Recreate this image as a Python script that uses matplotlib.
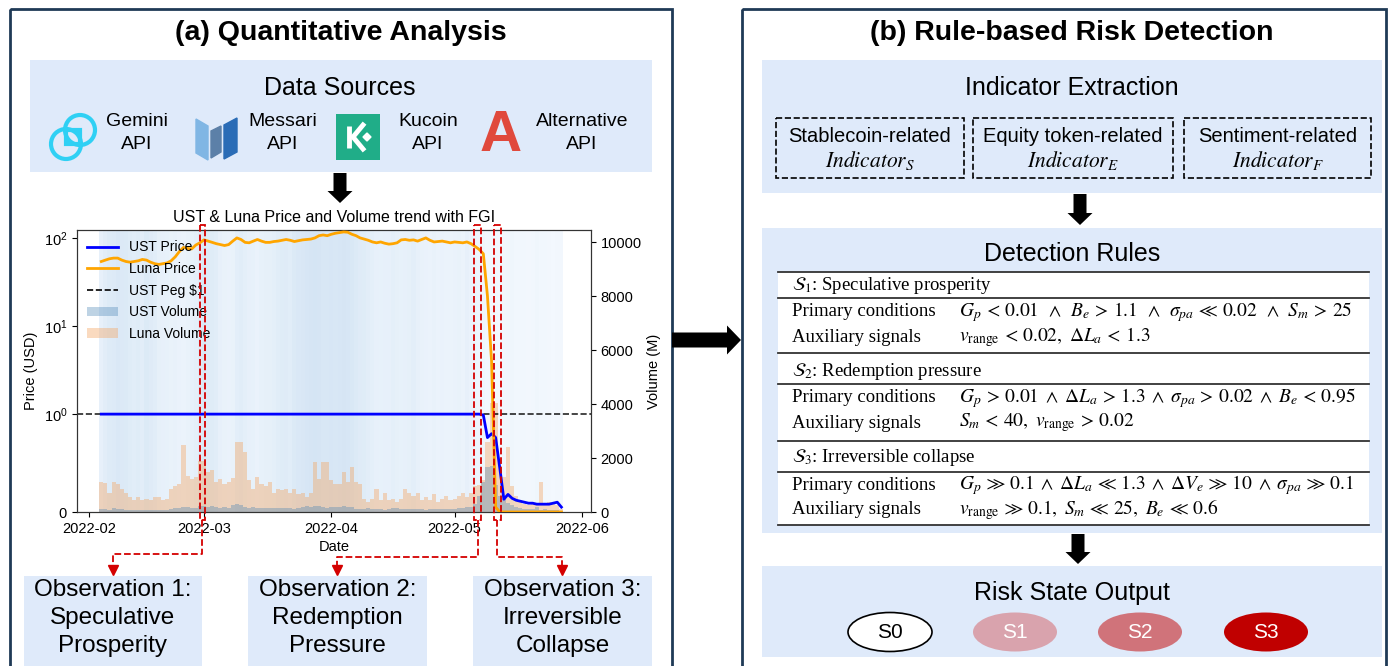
import matplotlib
matplotlib.use("Agg")
import matplotlib.pyplot as plt
import matplotlib.dates as mdates
from matplotlib.patches import Rectangle, Ellipse, FancyArrow, Polygon, Circle, Patch
from matplotlib.lines import Line2D
from matplotlib.ticker import NullLocator
import pandas as pd

plt.rcParams['font.family'] = ['Liberation Sans', 'DejaVu Sans']
plt.rcParams['mathtext.fontset'] = 'stix'

# ---- chart data (daily, 2022-02-04 .. 2022-05-27) ----
start_day = '2022-02-04'
luna_price = [
    54, 56, 58, 59, 59, 56, 54, 53, 54, 55, 57, 56, 53, 51, 50, 51, 52, 55, 61, 70, 78, 76, 75, 83, 88,
    95, 92, 89, 86, 84, 82, 84, 92, 100, 96, 89, 88, 92, 96, 92, 89, 89, 91, 92, 94, 96, 94, 91, 93, 95,
    96, 97, 100, 106, 108, 106,
    110, 113, 115, 117, 116, 110, 106, 100, 97, 94, 90, 88, 90, 87, 85, 86, 88, 95, 96, 94, 95, 92, 96,
    100, 94, 90, 91, 92, 90, 88,
    90, 89, 88, 90, 86, 80, 74, 66, 22, 4, 0.05, 0.0005, 0.0002, 0.0002, 0.0002, 0.0002, 0.0002,
    0.0002, 0.0002, 0.0002, 0.0002, 0.0002, 0.0002, 0.0002, 0.0002, 0.0002, 0.0001,
]
ust_price = [
    1.0, 1.0, 1.0, 1.0, 1.0, 1.0, 1.0, 1.0, 1.0, 1.0, 1.0, 1.0, 1.0, 1.0, 1.0, 1.0, 1.0, 1.0, 1.0, 1.0,
    1.0, 1.0, 1.0, 1.0, 1.0,
    1.0, 1.0, 1.0, 1.0, 1.0, 1.0, 1.0, 1.0, 1.0, 1.0, 1.0, 1.0, 1.0, 1.0, 1.0, 1.0, 1.0, 1.0, 1.0, 1.0,
    1.0, 1.0, 1.0, 1.0, 1.0, 1.0, 1.0, 1.0, 1.0, 1.0, 1.0,
    1.0, 1.0, 1.0, 1.0, 1.0, 1.0, 1.0, 1.0, 1.0, 1.0, 1.0, 1.0, 1.0, 1.0, 1.0, 1.0, 1.0, 1.0, 1.0, 1.0,
    1.0, 1.0, 1.0, 1.0, 1.0, 1.0, 1.0, 1.0, 1.0, 1.0,
    1.0, 1.0, 1.0, 1.0, 1.0, 1.0, 1.0, 0.99, 0.76, 0.80, 0.76, 0.45, 0.13, 0.18, 0.14, 0.12, 0.11,
    0.10, 0.09, 0.09, 0.08, 0.08, 0.08, 0.08, 0.09, 0.10, 0.05,
]
luna_volume = [
    1120, 1070, 720, 1120, 1030, 850, 720, 550, 430, 550, 430, 490, 430, 550, 550, 430, 490, 870, 980,
    1030, 2480, 1350, 1230, 1290, 1900,
    1900, 1470, 1570, 1110, 1230, 1030, 1120, 1250, 2600, 2580, 2210, 1170, 850, 1290, 1030, 950, 1110,
    720, 850, 800, 870, 720, 850, 650, 720, 550, 720, 1840, 1230, 1840, 1840,
    1170, 1030, 1030, 1470, 1110, 1660, 1110, 1030, 490, 370, 490, 850, 430, 720, 430, 500, 370, 490,
    850, 720, 600, 720, 430, 550, 430, 650, 370, 490, 600, 430,
    490, 600, 720, 550, 720, 950, 1000, 1200, 2600, 4030, 4030, 1720, 1290, 2400, 980, 600, 430, 310,
    250, 310, 250, 1120, 250, 370, 310, 250, 120,
]
ust_volume = [
    120, 110, 90, 130, 120, 100, 90, 80, 70, 80, 70, 80, 70, 90, 80, 70, 80, 120, 140, 160, 200, 170,
    150, 160, 220,
    240, 200, 220, 180, 160, 170, 160, 260, 280, 250, 180, 150, 170, 160, 150, 160, 140, 150, 140, 130,
    140, 130, 120, 140, 190, 210, 180, 220, 230, 180, 160,
    170, 200, 180, 210, 190, 170, 120, 100, 110, 140, 100, 120, 100, 90, 100, 140, 130, 110, 120, 100,
    110, 100, 120, 90, 100, 110, 100, 110, 120, 110,
    120, 130, 150, 170, 200, 300, 600, 1100, 1650, 1700, 1000, 600, 500, 350, 250, 200, 150, 120, 110,
    100, 200, 90, 100, 90, 80, 70, 50,
]
fgi = [
    30, 38, 45, 47, 52, 50, 48, 43, 40, 42, 38, 48, 44, 40, 32, 30, 28, 26, 27, 24, 22, 26, 28, 33, 44,
    52, 46, 42, 40, 30, 26, 24, 26, 35, 40, 34, 30, 29, 24, 28, 31, 32, 34, 40, 42, 44, 40, 48, 52, 55,
    58, 60, 62, 60, 56, 56,
    58, 56, 58, 60, 58, 54, 48, 44, 42, 38, 34, 30, 28, 30, 30, 34, 32, 28, 30, 32, 36, 30, 26, 24, 22,
    26, 22, 24, 22, 22,
    24, 26, 22, 30, 24, 20, 18, 14, 12, 10, 10, 8, 10, 12, 14, 12, 12, 12, 10, 12, 14, 12, 12, 10, 8,
    10, 10,
]
# observation windows marked on the chart
obs_windows = [('2022-02-28 00:00', '2022-03-01 06:00'),
               ('2022-05-05 20:00', '2022-05-07 08:00'),
               ('2022-05-10 12:00', '2022-05-12 06:00')]
obs_titles = ['Observation 1:\nSpeculative\nProsperity',
              'Observation 2:\nRedemption\nPressure',
              'Observation 3:\nIrreversible\nCollapse']

sources = ['Gemini\nAPI', 'Messari\nAPI', 'Kucoin\nAPI', 'Alternative\nAPI']
indicator_groups = ['Stablecoin-related', 'Equity token-related', 'Sentiment-related']
indicator_subs = [r'$Indicator_S$', r'$Indicator_E$', r'$Indicator_F$']
rule_titles = [r'$\mathcal{S}_1$: Speculative prosperity',
               r'$\mathcal{S}_2$: Redemption pressure',
               r'$\mathcal{S}_3$: Irreversible collapse']
rule_primary = [r'$G_p\, <\, 0.01\ \,\wedge\ \,B_e\, >\, 1.1\ \,\wedge\ \,\sigma_{pa}\, \ll\, 0.02\ \,\wedge\ \,S_m\, >\, 25$',
                r'$G_p\, >\, 0.01\; \wedge\; \Delta L_a\, >\, 1.3\; \wedge\; \sigma_{pa}\, >\, 0.02\; \wedge\; B_e\, <\, 0.95$',
                r'$G_p\, \gg\, 0.1\; \wedge\; \Delta L_a\, \ll\, 1.3\; \wedge\; \Delta V_e\, \gg\, 10\; \wedge\; \sigma_{pa}\, \gg\, 0.1$']
rule_aux = [r'$v_{\mathrm{range}}\, <\, 0.02,\ \Delta L_a\, <\, 1.3$',
            r'$S_m\, <\, 40,\ v_{\mathrm{range}}\, >\, 0.02$',
            r'$v_{\mathrm{range}}\, \gg\, 0.1,\ S_m\, \ll\, 25,\ B_e\, \ll\, 0.6$']
risk_states = ['S0', 'S1', 'S2', 'S3']
risk_colors = ['white', '#d9a3ad', '#d0737a', '#c00000']

for s in (luna_price, ust_price, luna_volume, ust_volume, fgi):
    assert len(s) == len(luna_price), len(s)

W, H = 1388, 666
BOX = '#dfeafa'
NAVY = '#1f3a56'
RED = '#d40000'

fig = plt.figure(figsize=(W / 100, H / 100), dpi=100)
bg = fig.add_axes([0, 0, 1, 1])
bg.set_xlim(0, W)
bg.set_ylim(H, 0)
bg.axis('off')

# panels
bg.add_patch(Rectangle((10, 9), 662, 700, fill=False, ec=NAVY, lw=2))
bg.add_patch(Rectangle((742, 9), 644, 700, fill=False, ec=NAVY, lw=2))
bg.text(341, 33, '(a) Quantitative Analysis', ha='center', va='center', fontsize=20.5, fontweight='bold')
bg.text(1072, 33, '(b) Rule-based Risk Detection', ha='center', va='center', fontsize=20.5, fontweight='bold')

# data sources box + logos
bg.add_patch(Rectangle((30, 60), 622, 112, color=BOX, lw=0))
bg.text(340, 88, 'Data Sources', ha='center', va='center', fontsize=18)
for x, s in zip([137, 283, 428, 582], sources):
    bg.text(x, 133, s, ha='center', va='center', fontsize=14, linespacing=1.45)
bg.add_patch(Circle((66, 144), 15, fill=False, ec='#2fd0f4', lw=3))
bg.add_patch(Circle((80, 130), 15, fill=False, ec='#2fd0f4', lw=3))
bg.add_patch(Rectangle((66, 130), 14, 14, fill=False, ec='#2fd0f4', lw=3))
bg.add_patch(Polygon([(196, 119), (208, 126), (208, 160), (196, 153)], color='#80b6e4'))
bg.add_patch(Polygon([(211, 131), (221, 126), (221, 152), (211, 158)], color='#5c80a8'))
bg.add_patch(Polygon([(224, 125), (237, 118), (237, 152), (224, 159)], color='#2a6cb6'))
bg.add_patch(Rectangle((336, 114), 44, 46, color='#20ad88', lw=0))
bg.plot([349, 349], [126, 148], color='white', lw=3.5, solid_capstyle='butt')
bg.plot([363, 353, 363], [125, 137, 149], color='white', lw=3.5)
bg.add_patch(Polygon([(367, 133), (371, 137), (367, 141), (363, 137)], color='white'))
bg.text(501, 136, 'A', ha='center', va='center', fontsize=42, fontweight='bold', color='#e0493c')

arrow_kw = dict(width=13, head_width=25, head_length=12, length_includes_head=True, color='black', lw=0)
bg.add_patch(FancyArrow(340, 173, 0, 30, **arrow_kw))
bg.add_patch(FancyArrow(672, 340, 69, 0, width=15, head_width=29, head_length=14,
                        length_includes_head=True, color='black', lw=0))
bg.add_patch(FancyArrow(1080, 194, 0, 31, **arrow_kw))
bg.add_patch(FancyArrow(1078, 534, 0, 30, **arrow_kw))

# ---- price / volume chart ----
dates = pd.date_range(start_day, periods=len(luna_price), freq='D')
dn = mdates.date2num(dates)

ax = fig.add_axes([77 / W, 1 - 512 / H, (591 - 77) / W, (512 - 230) / H])
ax2 = ax.twinx()
ax.set_zorder(ax2.get_zorder() + 1)
ax.patch.set_visible(False)

for d, f in zip(dn, fgi):
    ax2.axvspan(d - 0.5, d + 0.5, color=plt.cm.Blues(f / 100 * 0.28), lw=0, zorder=0)
ax2.bar(dn, luna_volume, width=1.0, color='sandybrown', alpha=0.4, lw=0, zorder=1)
ax2.bar(dn, ust_volume, width=1.0, color='steelblue', alpha=0.35, lw=0, zorder=2)
ax2.set_ylim(0, 10450)
ax2.set_ylabel('Volume (M)', fontsize=10.5)
ax2.tick_params(labelsize=10.5)

ax.axhline(1, color='k', ls='--', lw=1.2, alpha=0.85, zorder=2)
ax.plot(dn, ust_price, color='blue', lw=2, zorder=3)
ax.plot(dn, luna_price, color='orange', lw=2, zorder=3)
ax.set_yscale('symlog', linthresh=1)
ax.set_ylim(0, 123)
ax.yaxis.set_minor_locator(NullLocator())
ax.set_xlim(mdates.date2num(pd.Timestamp('2022-01-29 02:00')), mdates.date2num(pd.Timestamp('2022-06-03 05:00')))
ax.xaxis.set_major_locator(mdates.MonthLocator())
ax.xaxis.set_major_formatter(mdates.DateFormatter('%Y-%m'))
ax.tick_params(labelsize=10.5)
ax.set_ylabel('Price (USD)', fontsize=10.5)
ax.set_xlabel('Date', fontsize=10.5, labelpad=3)
ax.set_title('UST & Luna Price and Volume trend with FGI', fontsize=11.5, pad=6)
for a in (ax, ax2):
    for sp in a.spines.values():
        sp.set_color('#333333')

handles = [Line2D([], [], color='blue', lw=2), Line2D([], [], color='orange', lw=2),
           Line2D([], [], color='k', ls='--', lw=1.2),
           Patch(color='steelblue', alpha=0.35, lw=0), Patch(color='sandybrown', alpha=0.4, lw=0)]
labels = ['UST Price', 'Luna Price', 'UST Peg $1', 'UST Volume', 'Luna Volume']
ax.legend(handles, labels, loc='upper left', frameon=False, fontsize=10, handlelength=2.2,
          labelspacing=0.55, borderaxespad=0.35)

# overlay for the red observation markers (above the chart)
top = fig.add_axes([0, 0, 1, 1], zorder=10)
top.set_xlim(0, W)
top.set_ylim(H, 0)
top.axis('off')

obs_box_x = [(24, 202), (248, 427), (473, 652)]
turn_y = [554, 557, 557]
for (t0, t1), (bx0, bx1), ty, title in zip(obs_windows, obs_box_x, turn_y, obs_titles):
    x0 = ax.transData.transform((mdates.date2num(pd.Timestamp(t0)), 1))[0]
    x1 = ax.transData.transform((mdates.date2num(pd.Timestamp(t1)), 1))[0]
    top.add_patch(Rectangle((x0, 225), x1 - x0, 295, fill=False, ec=RED, ls='--', lw=1.3))
    xc = (x0 + x1) / 2
    bc = (bx0 + bx1) / 2
    top.plot([xc, xc, bc, bc], [520, ty, ty, 568], color=RED, ls='--', lw=1.3)
    top.plot([bc], [570], marker='v', color=RED, ms=7)
    bg.add_patch(Rectangle((bx0, 576), bx1 - bx0, 90, color=BOX, lw=0))
    bg.text(bc, 618, title, ha='center', va='center', fontsize=17.5, linespacing=1.33)

# ---- right panel ----
bg.add_patch(Rectangle((762, 60), 620, 133, color=BOX, lw=0))
bg.text(1072, 88, 'Indicator Extraction', ha='center', va='center', fontsize=18)
for (x0, x1), grp, sub in zip([(776, 964), (973, 1173), (1184, 1371)], indicator_groups, indicator_subs):
    bg.add_patch(Rectangle((x0, 118), x1 - x0, 60, fill=False, ec='black', ls='--', lw=1.2))
    bg.text((x0 + x1) / 2, 136, grp, ha='center', va='center', fontsize=14.5)
    bg.text((x0 + x1) / 2, 160, sub, ha='center', va='center', fontsize=15.5)

bg.add_patch(Rectangle((762, 228), 620, 305, color=BOX, lw=0))
bg.text(1072, 254, 'Detection Rules', ha='center', va='center', fontsize=18)
bg.add_patch(Rectangle((778, 272), 591, 253, color='white', lw=0))
for y in [272, 298, 353, 384, 441, 472, 525]:
    bg.plot([778, 1369], [y, y], color='#333333', lw=1.3)
serif = ['Liberation Serif', 'DejaVu Serif']
for i in range(3):
    y0 = [285, 371, 458][i]
    bg.text(792, y0, rule_titles[i], va='center', fontsize=13.5, family=serif)
    bg.text(792, y0 + 27, 'Primary conditions', va='center', fontsize=13.5, family=serif)
    bg.text(792, y0 + 52, 'Auxiliary signals', va='center', fontsize=13.5, family=serif)
    bg.text(959, y0 + 27, rule_primary[i], va='center', fontsize=14)
    bg.text(959, y0 + 52, rule_aux[i], va='center', fontsize=14)

bg.add_patch(Rectangle((762, 566), 620, 91, color=BOX, lw=0))
bg.text(1072, 593, 'Risk State Output', ha='center', va='center', fontsize=18)
for x, s, c in zip([890, 1015, 1140, 1266], risk_states, risk_colors):
    bg.add_patch(Ellipse((x, 632), 84, 39, fc=c, ec='black' if c == 'white' else 'none', lw=1.2))
    bg.text(x, 632, s, ha='center', va='center', fontsize=15, color='black' if c == 'white' else 'white')

fig.savefig('out.png', dpi=100)
